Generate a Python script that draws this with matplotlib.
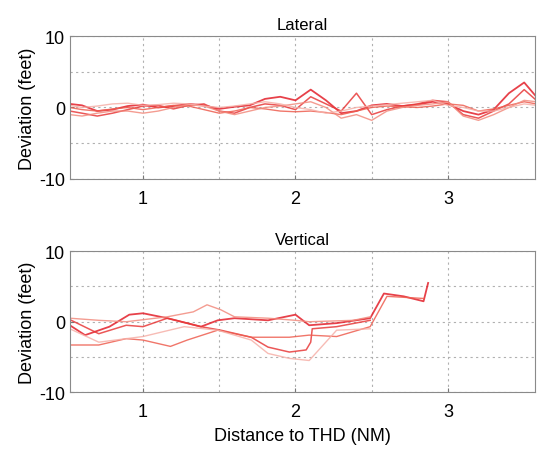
import matplotlib
matplotlib.use('Agg')
import matplotlib.pyplot as plt
import numpy as np

plt.rcParams['font.family'] = ['Liberation Sans', 'DejaVu Sans']
plt.rcParams['axes.unicode_minus'] = False

# lateral deviation traces (feet) vs distance to threshold (NM)
lat_x = [0.52, 0.6, 0.7, 0.8, 0.9, 1.0, 1.1, 1.2, 1.3, 1.4, 1.5, 1.6, 1.7, 1.8, 1.9, 2.0,
         2.1, 2.2, 2.3, 2.4, 2.5, 2.6, 2.7, 2.8, 2.9, 3.0, 3.1, 3.2, 3.3, 3.4, 3.5, 3.58]
lat_1 = [0.5, 0.3, -0.5, -0.3, 0.2, 0.4, 0.0, 0.2, 0.5, 0.3, -0.2, 0.1, 0.3, 1.2, 1.5, 1.0,
         2.5, 1.0, -0.8, -0.5, 0.3, 0.5, 0.2, 0.4, 0.8, 0.5, -0.5, -1.0, -0.3, 2.0, 3.5, 1.5]
lat_2 = [-0.5, -0.8, -1.2, -0.8, -0.3, 0.2, 0.3, -0.2, 0.3, 0.5, -0.5, -0.8, 0.0, 0.5, 0.3, -0.3,
         1.5, 0.5, -0.5, 2.0, -1.0, -0.3, 0.2, 0.5, 1.0, 0.8, -1.0, -1.5, -0.5, 0.5, 2.5, 1.0]
lat_3 = [0.0, -0.3, -0.5, -0.2, 0.0, -0.3, 0.0, 0.3, 0.2, -0.3, -0.8, -0.5, 0.0, -0.2, -0.5, -0.6,
         -0.5, -0.7, -1.0, -0.5, 0.0, 0.2, 0.1, 0.0, 0.2, 0.5, 0.3, -0.5, -0.2, 0.3, 0.8, 0.5]
lat_4 = [-1.0, -1.2, -0.8, -0.5, -0.5, -0.8, -0.5, 0.0, 0.4, 0.2, -0.5, -1.0, -0.5, 0.0, 0.2, 0.5,
         0.8, 0.0, -1.5, -1.0, -1.8, -0.5, 0.0, 0.3, 0.5, 0.8, -1.2, -1.8, -1.0, 0.0, 1.0, 0.8]
lat_5 = [0.3, 0.0, 0.2, 0.5, 0.6, 0.3, 0.4, 0.6, 0.5, 0.2, 0.0, 0.2, 0.5, 0.8, 0.5, 0.0,
         -0.3, -0.8, -0.5, 0.0, 0.2, 0.4, 0.6, 0.8, 1.0, 0.3, 0.0, -0.5, -0.5, 0.0, 0.5, 0.3]

# vertical deviation traces
ver_x1 = [0.52, 0.62, 0.78, 0.91, 1.0, 1.16, 1.38, 1.49, 1.6, 1.82, 2.0, 2.09, 2.27, 2.49,
          2.58, 2.71, 2.84, 2.87]
ver_1 = [-0.5, -1.9, -0.7, 1.0, 1.2, 0.5, -0.7, 0.2, 0.5, 0.2, 1.0, -0.5, -0.2, 0.5,
         4.0, 3.6, 2.9, 5.5]
ver_x2 = [0.52, 0.71, 0.89, 1.0, 1.16, 1.38, 1.51, 1.71, 1.82, 1.96, 2.07, 2.1, 2.11, 2.27, 2.49]
ver_2 = [0.3, -1.7, -0.5, -0.7, 0.5, -0.7, -1.2, -2.2, -3.6, -4.3, -4.0, -2.9, -1.0, -0.7, 0.2]
ver_x3 = [0.52, 0.71, 0.89, 1.0, 1.18, 1.29, 1.49, 1.71, 1.96, 2.09, 2.27, 2.49, 2.6, 2.84]
ver_3 = [-3.3, -3.3, -2.4, -2.6, -3.5, -2.6, -1.2, -2.2, -2.2, -1.9, -2.1, -0.7, 3.6, 3.3]
ver_x4 = [0.52, 0.71, 0.89, 1.16, 1.33, 1.42, 1.51, 1.6, 1.82, 2.0, 2.09, 2.38, 2.49]
ver_4 = [0.5, 0.2, 0.0, 0.7, 1.4, 2.4, 1.7, 0.7, 0.5, 0.2, 0.0, 0.2, 0.7]
ver_x5 = [0.52, 0.71, 1.0, 1.27, 1.49, 1.71, 1.82, 1.96, 2.09, 2.27, 2.49]
ver_5 = [-1.0, -2.9, -2.1, -0.7, -1.2, -2.6, -4.5, -5.2, -5.5, -1.2, -1.0]

colors = ['#e3202a', '#e83a3a', '#ee5e50', '#f28b7e', '#f6b0a8']
widths = [1.3, 1.1, 1.0, 1.0, 1.0]

fig = plt.figure(figsize=(5.37, 4.52), dpi=100)
ax1 = fig.add_axes([0.130, 0.602, 0.866, 0.316])
ax2 = fig.add_axes([0.130, 0.130, 0.866, 0.312])

lat = [lat_1, lat_2, lat_3, lat_4, lat_5]
for i in range(5):
    ax1.plot(lat_x, lat[i], color=colors[i], linewidth=widths[i], alpha=0.85)

ver = [(ver_x1, ver_1), (ver_x2, ver_2), (ver_x3, ver_3), (ver_x4, ver_4), (ver_x5, ver_5)]
for i in range(5):
    ax2.plot(ver[i][0], ver[i][1], color=colors[i], linewidth=widths[i], alpha=0.85)

for ax, title in [(ax1, 'Lateral'), (ax2, 'Vertical')]:
    ax.set_xlim(0.52, 3.57)
    ax.set_ylim(-10, 10)
    ax.set_xticks([1, 2, 3])
    ax.set_xticks([1.5, 2.5], minor=True)
    ax.set_yticks([-10, 0, 10])
    ax.set_yticks([-5, 5], minor=True)
    ax.grid(True, which='both', linestyle=(0, (2, 3)), color='#b0b0b0', linewidth=0.8)
    ax.tick_params(which='both', direction='in', length=3, labelsize=13, color='#777777')
    ax.tick_params(axis='x', pad=8)
    ax.tick_params(which='minor', length=0)
    for s in ax.spines.values():
        s.set_color('#8a8a8a')
    ax.set_title(title, fontsize=12, pad=5)
    ax.set_ylabel('Deviation (feet)', fontsize=13, labelpad=2)

ax2.set_xlabel('Distance to THD (NM)', fontsize=13, labelpad=5)

plt.savefig('out.png', dpi=100)
